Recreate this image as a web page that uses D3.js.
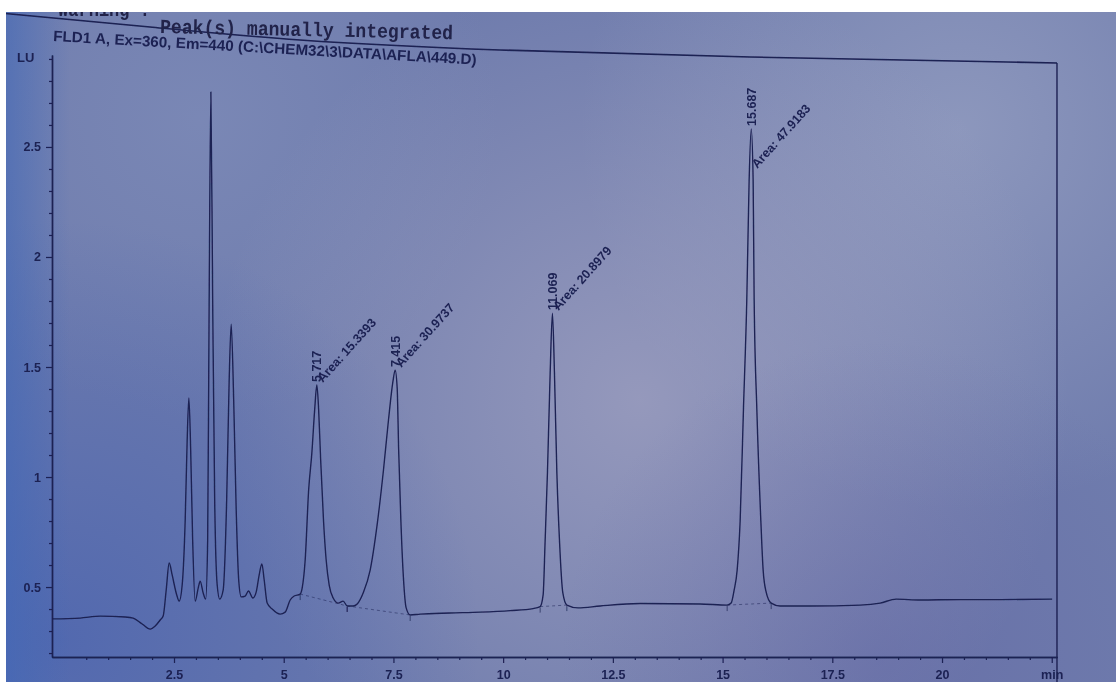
<!DOCTYPE html>
<html><head><meta charset="utf-8">
<script src="https://cdn.jsdelivr.net/npm/d3@7"></script>
<style>html,body{margin:0;padding:0;background:#fff;overflow:hidden;} svg{display:block;}</style>
</head><body>
<svg id="chart" width="1116" height="682"></svg>
<script>
// ---- data ----
const timeMin = [-0.27,0.36,0.82,1.39,1.57,1.775,1.957,2.071,2.185,2.253,2.322,2.39,2.458,2.55,2.618,2.686,2.755,2.8,2.839,2.88,2.925,2.982,3.051,3.096,3.165,3.222,3.267,3.301,3.34,3.381,3.427,3.484,3.541,3.62,3.7,3.757,3.803,3.86,3.917,3.974,4.031,4.122,4.197,4.297,4.372,4.441,4.502,4.555,4.623,4.737,4.919,5.033,5.147,5.238,5.375,5.42,5.489,5.568,5.641,5.705,5.755,5.796,5.842,5.906,5.967,6.036,6.127,6.241,6.355,6.446,6.583,6.674,6.81,6.97,7.122,7.273,7.387,7.487,7.539,7.585,7.619,7.669,7.728,7.79,7.881,8.109,8.793,9.476,10.16,10.684,10.843,10.911,10.957,11.009,11.071,11.123,11.169,11.224,11.283,11.36,11.451,11.709,12.21,13.122,14.489,15.104,15.195,15.263,15.332,15.4,15.475,15.552,15.605,15.653,15.696,15.719,15.781,15.872,15.924,15.993,16.107,16.311,16.995,18.134,18.59,18.955,19.501,20.413,21.324,22.509];
const signalLU = [0.355,0.359,0.368,0.364,0.359,0.332,0.309,0.323,0.35,0.368,0.486,0.609,0.555,0.473,0.436,0.509,0.805,1.168,1.359,1.123,0.714,0.436,0.495,0.527,0.473,0.445,0.714,1.805,2.75,1.805,0.895,0.509,0.445,0.486,0.895,1.441,1.695,1.35,0.85,0.532,0.455,0.459,0.482,0.45,0.477,0.555,0.605,0.532,0.427,0.4,0.377,0.386,0.441,0.459,0.468,0.495,0.623,0.941,1.109,1.305,1.418,1.305,1.077,0.805,0.623,0.509,0.45,0.427,0.436,0.414,0.414,0.423,0.473,0.577,0.773,1.032,1.259,1.432,1.486,1.405,1.123,0.805,0.541,0.405,0.373,0.377,0.382,0.386,0.393,0.402,0.411,0.464,0.714,1.018,1.473,1.745,1.473,1.018,0.714,0.473,0.418,0.405,0.414,0.425,0.423,0.418,0.427,0.486,0.577,0.8,1.305,1.809,2.35,2.582,2.35,1.809,1.305,0.8,0.577,0.477,0.427,0.414,0.414,0.418,0.427,0.445,0.441,0.443,0.443,0.445];

const xTickValues = [2.5,5,7.5,10,12.5,15,17.5,20,22.5];
const xTickLabels = ["2.5","5","7.5","10","12.5","15","17.5","20","min"];
const yTickValues = [0.5,1,1.5,2,2.5];
const yTickLabels = ["0.5","1","1.5","2","2.5"];

const peakApexTime = [5.755,7.539,11.123,15.653];
const peakRT = ["5.717","7.415","11.069","15.687"];
const peakArea = ["Area: 15.3393","Area: 30.9737","Area: 20.8979","Area: 47.9183"];
const baseStart = [5.375,6.446,10.843,15.104];
const baseEnd = [6.446,7.881,11.451,16.107];

const titleText = "FLD1 A, Ex=360, Em=440 (C:\\CHEM32\\3\\DATA\\AFLA\\449.D)";
const headerText = "Peak(s) manually integrated";
const headerCut = "Warning :";
const unitLabel = "LU";

// ---- drawing ----
const W = 1116, H = 682;
const svg = d3.select("#chart");
const defs = svg.append("defs");
const ink = "#1b2052";

function radial(id, cx, cy, r, color, op) {
  const g = defs.append("radialGradient").attr("id", id).attr("gradientUnits","userSpaceOnUse")
    .attr("cx", cx).attr("cy", cy).attr("r", r);
  g.append("stop").attr("offset", "0%").attr("stop-color", color).attr("stop-opacity", op);
  g.append("stop").attr("offset", "100%").attr("stop-color", color).attr("stop-opacity", 0);
}
radial("gCenter", 640, 400, 430, "#b4b0c8", 0.55);
radial("gTopRight", 960, 130, 380, "#aab2cc", 0.5);
radial("gTopLeft", 200, 120, 300, "#8e9cc4", 0.35);
radial("gBotLeft", 60, 640, 420, "#3f5cb0", 0.6);
radial("gBotRight", 880, 660, 320, "#5a5a9e", 0.35);
const lg = defs.append("linearGradient").attr("id","gLeft").attr("x1",0).attr("x2",1).attr("y1",0).attr("y2",0);
lg.append("stop").attr("offset","0%").attr("stop-color","#3d66b8").attr("stop-opacity",0.6);
lg.append("stop").attr("offset","100%").attr("stop-color","#3d66b8").attr("stop-opacity",0);
const soft = defs.append("filter").attr("id","soft").attr("x","-5%").attr("y","-5%").attr("width","110%").attr("height","110%");
soft.append("feGaussianBlur").attr("stdDeviation", 0.55);

svg.append("rect").attr("width", W).attr("height", H).attr("fill", "#6f7cad");
["gTopLeft","gTopRight","gCenter","gBotLeft","gBotRight"].forEach(id =>
  svg.append("rect").attr("width", W).attr("height", H).attr("fill", `url(#${id})`));
svg.append("rect").attr("width", 70).attr("height", H).attr("fill", "url(#gLeft)");

const x = d3.scaleLinear().domain([-0.28, 22.62]).range([52, 1057]);
const y = d3.scaleLinear().domain([0.182, 2.918]).range([657, 55]);

const g = svg.append("g").attr("filter", "url(#soft)");

// frame: top border (photographed paper bends slightly) and right border
const topPts = [[0,13],[150,27],[300,40],[500,50],[750,57],[1057,63]];
g.append("path").attr("d", d3.line().curve(d3.curveNatural)(topPts))
  .attr("fill","none").attr("stroke", ink).attr("stroke-width", 1.6);
g.append("line").attr("x1", x.range()[1]).attr("x2", x.range()[1]).attr("y1", 63).attr("y2", H)
  .attr("stroke", ink).attr("stroke-width", 1.4);

// axes
function styleAxis(sel) {
  sel.select(".domain").attr("stroke", ink).attr("stroke-width", 1.4);
  sel.selectAll(".tick line").attr("stroke", ink).attr("stroke-width", 1.2);
  sel.selectAll(".tick text").attr("fill", ink).attr("font-family", "'Liberation Sans', Arial, sans-serif")
    .attr("font-size", 12.5).attr("font-weight", 600);
}
const yMinor = d3.range(2, 30).map(v => v / 10).filter(v => !yTickValues.includes(v));
g.append("g").attr("transform", `translate(${x.range()[0]},0)`)
  .call(d3.axisLeft(y).tickValues(yMinor).tickSize(3).tickSizeOuter(0).tickFormat(""))
  .call(styleAxis);
g.append("g").attr("transform", `translate(${x.range()[0]},0)`)
  .call(d3.axisLeft(y).tickValues(yTickValues).tickSize(6).tickSizeOuter(0).tickPadding(5)
    .tickFormat((d, i) => yTickLabels[i]))
  .call(styleAxis);

const xMinor = d3.range(1, 46).map(v => v / 2).filter(v => !xTickValues.includes(v));
g.append("g").attr("transform", `translate(0,${y.range()[0]})`)
  .call(d3.axisBottom(x).tickValues(xMinor).tickSize(3).tickSizeOuter(0).tickFormat(""))
  .call(styleAxis);
g.append("g").attr("transform", `translate(0,${y.range()[0]})`)
  .call(d3.axisBottom(x).tickValues(xTickValues).tickSize(6).tickSizeOuter(0).tickPadding(7)
    .tickFormat((d, i) => xTickLabels[i]))
  .call(styleAxis);

// integration baselines
const bis = d3.bisector(d => d).left;
function valAt(t) { const i = Math.min(bis(timeMin, t), timeMin.length - 1); return signalLU[i]; }
baseStart.forEach((s, i) => {
  const e = baseEnd[i];
  g.append("line").attr("x1", x(s)).attr("y1", y(valAt(s))).attr("x2", x(e)).attr("y2", y(valAt(e)))
    .attr("stroke", ink).attr("stroke-width", 1).attr("stroke-dasharray", "3,3").attr("opacity", 0.5);
  [s, e].forEach(t => g.append("line").attr("x1", x(t)).attr("x2", x(t))
    .attr("y1", y(valAt(t)) + 1).attr("y2", y(valAt(t)) + 6).attr("stroke", ink).attr("stroke-width", 1).attr("opacity", 0.7));
});

// chromatogram trace
const pts = timeMin.map((t, i) => [t, signalLU[i]]);
g.append("path").datum(pts)
  .attr("d", d3.line().x(d => x(d[0])).y(d => y(d[1])).curve(d3.curveMonotoneX))
  .attr("fill", "none").attr("stroke", ink).attr("stroke-width", 1.35).attr("stroke-linejoin", "round");

// peak labels
const lblFont = "'Liberation Sans', Arial, sans-serif";
peakApexTime.forEach((t, i) => {
  const idx = d3.minIndex(timeMin, d => Math.abs(d - t));
  const px = x(timeMin[idx]), py = y(signalLU[idx]);
  g.append("text").attr("transform", `translate(${px + 4.5},${py - 3}) rotate(-90)`)
    .attr("font-family", lblFont).attr("font-size", 12.5).attr("font-weight", 600).attr("fill", ink)
    .text(peakRT[i]);
  const dy = i === 3 ? 40 : -2;
  g.append("text").attr("transform", `translate(${px + 6},${py + dy}) rotate(-48)`)
    .attr("font-family", lblFont).attr("font-size", 12.5).attr("font-weight", 600).attr("fill", ink)
    .text(peakArea[i]);
});

// title and unit
g.append("text").attr("x", 53).attr("y", 41).attr("transform", "rotate(3.2,53,41)")
  .attr("font-family", lblFont).attr("font-size", 15).attr("font-weight", 600).attr("fill", ink)
  .attr("textLength", 424).attr("lengthAdjust", "spacingAndGlyphs").text(titleText);
g.append("text").attr("x", 17).attr("y", 62).attr("font-family", lblFont).attr("font-size", 13)
  .attr("font-weight", 700).attr("fill", ink).text(unitLabel);
g.append("text").attr("x", 160).attr("y", 33).attr("transform", "rotate(1.2,160,33)")
  .attr("font-family", "'Liberation Mono', 'DejaVu Sans Mono', monospace").attr("font-size", 20)
  .attr("font-weight", 700).attr("fill", "#20244a")
  .attr("textLength", 293).attr("lengthAdjust", "spacingAndGlyphs").text(headerText);
g.append("text").attr("x", 58).attr("y", 16)
  .attr("font-family", "'Liberation Mono', 'DejaVu Sans Mono', monospace").attr("font-size", 20)
  .attr("font-weight", 700).attr("fill", "#20244a")
  .attr("textLength", 92).attr("lengthAdjust", "spacingAndGlyphs").text(headerCut);

// photo margins (white paper border of the photograph)
svg.append("rect").attr("x", 0).attr("y", 0).attr("width", W).attr("height", 12).attr("fill", "#ffffff");
svg.append("rect").attr("x", 0).attr("y", 0).attr("width", 6).attr("height", H).attr("fill", "#ffffff");
</script>
</body></html>
